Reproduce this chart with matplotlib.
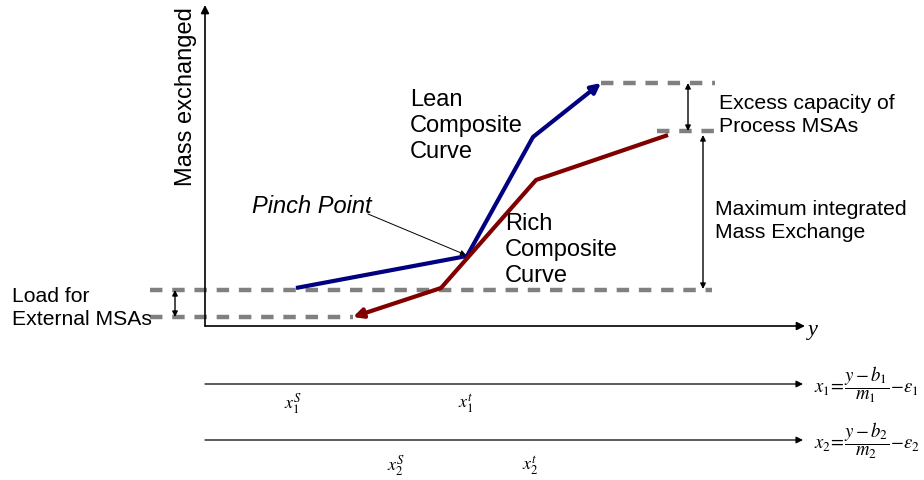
import matplotlib.pyplot as plt
from matplotlib.patches import FancyArrowPatch

plt.rcParams['font.family'] = ['Liberation Sans', 'DejaVu Sans']
plt.rcParams['mathtext.fontset'] = 'stix'

# composite curves (diagram units, y grows downward)
lean_x = [296, 467, 533, 601]
lean_y = [289, 257, 138, 84]
rich_x = [668, 536, 441, 353]
rich_y = [136, 181, 289, 318]

# dashed reference levels: (x start, x end, level)
levels = [(601, 715, 84), (657, 715, 132), (150, 712, 291), (150, 353, 318)]

# double arrows: (x, top, bottom)
spans = [(688, 84, 132), (703, 136, 290), (175, 291, 318)]

x1_ticks = [(293, r'$x_1^S$'), (466, r'$x_1^t$')]
x2_ticks = [(396, r'$x_2^S$'), (530, r'$x_2^t$')]

fig = plt.figure(figsize=(9.24, 4.81), dpi=100)
ax = fig.add_axes([0, 0, 1, 1])
ax.set_xlim(0, 924)
ax.set_ylim(481, 0)
ax.axis('off')


def arrow(p0, p1, style='-|>', lw=1.0, color='black', ms=10, z=3):
    a = FancyArrowPatch(p0, p1, arrowstyle=style, mutation_scale=ms,
                        lw=lw, color=color, shrinkA=0, shrinkB=0, zorder=z)
    ax.add_patch(a)


# main axes
arrow((205, 327), (205, 6), lw=1.2, ms=12)
arrow((205, 327), (805, 327), lw=1.2, ms=12)
ax.text(813, 331, 'y', fontsize=16, style='italic', family='Liberation Serif',
        ha='center', va='center')
ax.text(186, 97, 'Mass exchanged', fontsize=17, rotation=90,
        ha='center', va='center')

# gray dashed levels
for xa, xb, yy in levels:
    ax.plot([xa, xb], [yy, yy], color='#808080', lw=3.2,
            dashes=(2.8, 2.2), zorder=1)

# lean composite curve
ax.plot(lean_x[:-1], lean_y[:-1], color='#000080', lw=3, solid_capstyle='butt', zorder=4)
arrow((lean_x[-2], lean_y[-2]), (lean_x[-1], lean_y[-1]), lw=3,
      color='#000080', ms=14, z=4)

# rich composite curve
ax.plot(rich_x[:-1], rich_y[:-1], color='#800000', lw=3, solid_capstyle='butt', zorder=4)
arrow((rich_x[-2], rich_y[-2]), (rich_x[-1], rich_y[-1]), lw=3,
      color='#800000', ms=14, z=4)

# double-headed spans
for xx, ya, yb in spans:
    arrow((xx, ya), (xx, yb), style='<|-|>', lw=1.0, ms=8)

# pinch point pointer
arrow((368, 215), (466, 256), lw=0.7, ms=8)
ax.text(252, 207, 'Pinch Point', fontsize=17, style='italic', va='center')

fs = 17
ax.text(410, 126, 'Lean\nComposite\nCurve', fontsize=fs, va='center',
        linespacing=1.22)
ax.text(505, 250, 'Rich\nComposite\nCurve', fontsize=fs, va='center',
        linespacing=1.22)
ax.text(719, 115, 'Excess capacity of\nProcess MSAs', fontsize=15.3,
        va='center', linespacing=1.25)
ax.text(715, 221, 'Maximum integrated\nMass Exchange', fontsize=15.2,
        va='center', linespacing=1.22)
ax.text(12, 308, 'Load for\nExternal MSAs', fontsize=15.2, va='center',
        linespacing=1.25)

# concentration scales
arrow((205, 385), (803, 385), lw=0.9, ms=10)
arrow((205, 441), (803, 441), lw=0.9, ms=10)
for xx, lab in x1_ticks:
    ax.text(xx, 404, lab, fontsize=13, ha='center', va='center')
for xx, lab in x2_ticks:
    ax.text(xx, 466, lab, fontsize=13, ha='center', va='center')

ax.text(814, 385, r'$x_1\!=\!\dfrac{y-b_1}{m_1}\!-\!\varepsilon_1$', fontsize=13.5,
        va='center', ha='left')
ax.text(814, 441, r'$x_2\!=\!\dfrac{y-b_2}{m_2}\!-\!\varepsilon_2$', fontsize=13.5,
        va='center', ha='left')

fig.savefig('out.png', dpi=100)
